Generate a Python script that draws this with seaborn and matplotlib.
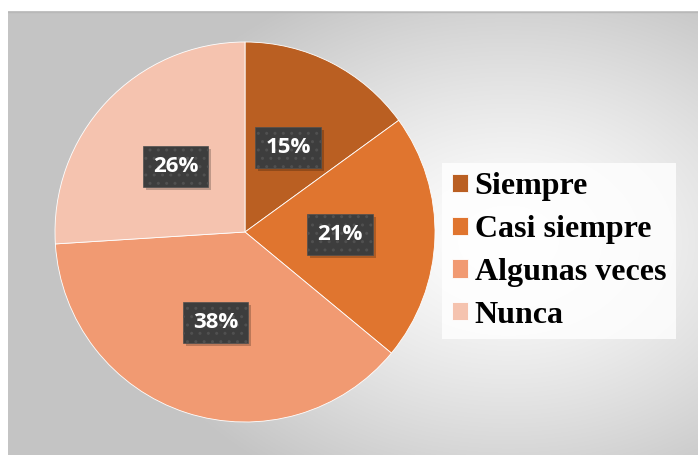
import numpy as np
import matplotlib
matplotlib.use("Agg")
import matplotlib.pyplot as plt
from matplotlib.patches import Rectangle
from matplotlib.transforms import IdentityTransform
import seaborn as sns

# datos
categorias = ["Siempre", "Casi siempre", "Algunas veces", "Nunca"]
porcentajes = [15, 21, 38, 26]
colores = ["#BA5F22", "#E0752F", "#F19A72", "#F5C3AF"]

sns.set_theme(style="white")
plt.rcParams["font.family"] = ["Open Sans", "DejaVu Sans"]

W, H = 699, 455
fig = plt.figure(figsize=(W / 100, H / 100), dpi=100)
fig.patch.set_facecolor("white")

# fondo con degradado radial
bg = fig.add_axes([8 / W, 0, 690 / W, 444 / H])
yy, xx = np.mgrid[0:444, 0:690]
cx, cy = 500, 230
d = np.sqrt(((xx - cx) / 560) ** 2 + ((yy - cy) / 400) ** 2)
val = np.clip(1.0 - 0.36 * d ** 1.3, 0.77, 0.995)
bg.imshow(np.dstack([val, val, val]), aspect="auto", extent=[0, 690, 444, 0])
bg.axhline(0.5, color="#b8b8b8", lw=1)
bg.set_axis_off()

# pastel
R = 190
ax = fig.add_axes([(245 - R) / W, (H - 232 - R) / H, 2 * R / W, 2 * R / H])
wedges, _, autotexts = ax.pie(
    porcentajes,
    colors=sns.color_palette(colores),
    startangle=90,
    counterclock=False,
    autopct="%d%%",
    pctdistance=0.5,
    wedgeprops=dict(edgecolor="white", linewidth=0.6),
)
ax.set_xlim(-1, 1)
ax.set_ylim(-1, 1)
ax.set_aspect("equal")

for t in autotexts:
    t.set_color("white")
    t.set_fontsize(16)
    t.set_fontweight("bold")
    t.set_zorder(5)
    t.set_bbox(dict(boxstyle="square,pad=0.45", fc="#3d3d3d", ec="#505050",
                    lw=0.5, hatch=".."))

# sombras de las cajas de porcentaje (debajo de las cajas)
fig.canvas.draw()
for t in autotexts:
    bb = t.get_bbox_patch().get_window_extent()
    sombra = Rectangle((bb.x0 + 3, bb.y0 - 3), bb.width, bb.height,
                       fc=(0, 0, 0, 0.22), ec="none", zorder=4)
    sombra.set_transform(IdentityTransform())
    ax.add_artist(sombra)

# leyenda
leg = fig.legend(
    wedges, categorias,
    loc="center left", bbox_to_anchor=(442 / W, 1 - 251 / H),
    prop=dict(family="Liberation Serif", weight="bold", size=23),
    frameon=True, handlelength=0.5, handleheight=0.5, handletextpad=0.22,
    labelspacing=0.43, borderpad=0.3, borderaxespad=0,
)
for txt in leg.get_texts():
    txt.set_color("black")
leg.get_frame().set_facecolor((1, 1, 1, 0.3))
leg.get_frame().set_edgecolor("none")
leg.get_frame().set_boxstyle("square", pad=0)

fig.savefig("out.png", dpi=100)
